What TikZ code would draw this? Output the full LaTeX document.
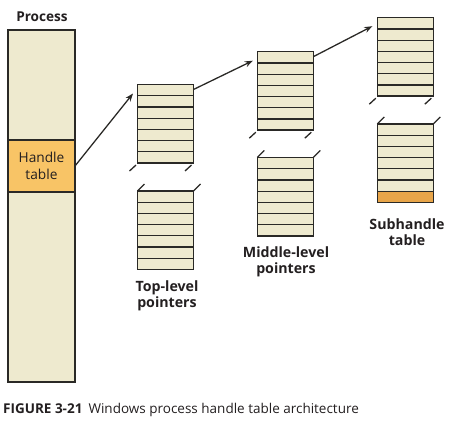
\documentclass[tikz,border=0pt]{standalone}
\usepackage{fontspec}
\setmainfont{Open Sans}
\usetikzlibrary{calc,arrows.meta}
\definecolor{beige}{HTML}{EEEACF}
\definecolor{hdl}{HTML}{F8C466}
\definecolor{sub}{HTML}{E8A549}
\definecolor{lc}{HTML}{2A2926}
\definecolor{txt}{HTML}{231F20}
\begin{document}
\begin{tikzpicture}[x=1pt,y=-1pt,
  tbl/.style={draw=lc, line width=1.5pt, fill=beige, minimum width=56pt, minimum height=78.5pt,
    inner sep=0pt, outer sep=0pt, anchor=north west,
    path picture={
      \fill[#1] ($(path picture bounding box.south west)!1/7!(path picture bounding box.north west)$) rectangle (path picture bounding box.south east);
      \foreach \i in {1,...,6}
        \draw[lc,line width=1.25pt] ($(path picture bounding box.north west)!\i/7!(path picture bounding box.south west)$) -- ($(path picture bounding box.north east)!\i/7!(path picture bounding box.south east)$);
    }},
  tbl/.default=beige,
  tick/.style={draw=lc, line width=1.3pt},
  arr/.style={draw=lc, line width=1.3pt, -{Stealth[length=8pt,width=6pt]}},
  lbl/.style={font=\fontsize{14.2}{16.5}\selectfont\bfseries, text=txt, align=center, inner sep=0pt},
]
\useasboundingbox (0,0) rectangle (454,423);
% process column
\node[draw=lc, line width=1.4pt, fill=beige, minimum width=67pt, minimum height=352pt, inner sep=0pt, outer sep=0pt, anchor=north west] (proc) at (8,30) {};
\node[draw=lc, line width=1.4pt, fill=hdl, minimum width=67pt, minimum height=52pt, inner sep=0pt, outer sep=0pt, anchor=north west, align=center, text=txt, font=\fontsize{13.7}{16.5}\selectfont] (ht) at (8,140) {Handle\\table};
\node[lbl, anchor=center, font=\fontsize{13.6}{16}\selectfont\bfseries] (plabel) at (42,17) {Process};
% tables
\node[tbl] (t1) at (137.5,84.5) {};
\node[tbl] (t2) at (137.5,191) {};
\node[tbl] (m1) at (257.3,51.7) {};
\node[tbl] (m2) at (257.3,157.5) {};
\node[tbl] (s1) at (377.3,17.7) {};
\node[tbl=sub] (s2) at (377.3,124) {};
% break ticks
\foreach \n in {t1,m1,s1}{
  \draw[tick] ([shift={(-8,8)}]\n.south west) -- ([shift={(-1.5,2)}]\n.south west);
  \draw[tick] ([shift={(-8.5,8)}]\n.south east) -- ([shift={(-2,2)}]\n.south east);
}
\foreach \n in {t2,m2,s2}{
  \draw[tick] (\n.north west) -- ([shift={(7,-7)}]\n.north west);
  \draw[tick] (\n.north east) -- ([shift={(7,-7)}]\n.north east);
}
% arrows
\draw[arr] (ht.east) -- ([shift={(-4.5,9)}]t1.north west);
\draw[arr] ([shift={(0,5)}]t1.north east) -- ([shift={(-4.5,9)}]m1.north west);
\draw[arr] ([shift={(0,5)}]m1.north east) -- ([shift={(-5,8.5)}]s1.north west);
% labels
\node[lbl] (tl) at (167,296) {Top-level\\pointers};
\node[lbl] (ml) at (286,262) {Middle-level\\pointers};
\node[lbl] (sl) at (407,232) {Subhandle\\table};
% caption
\node[anchor=base west, inner sep=0pt, text=txt, font=\fontsize{13.5}{15}\selectfont] (cap) at (3,413) {{\bfseries FIGURE 3-21}\hspace{0.45em}Windows process handle table architecture};
\end{tikzpicture}
\end{document}
